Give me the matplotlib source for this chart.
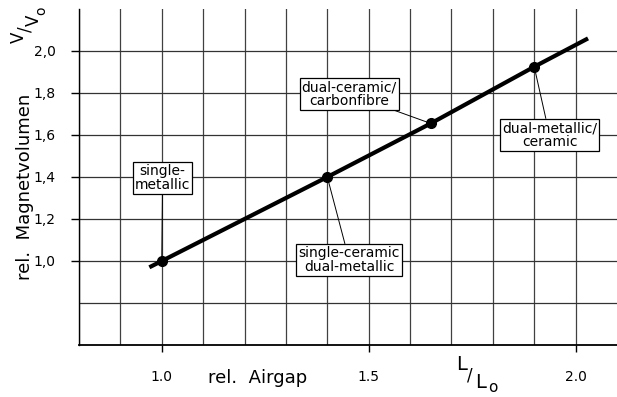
import matplotlib
matplotlib.use("Agg")
import matplotlib.pyplot as plt

# curve of rel. magnet volume over rel. airgap
airgap = [0.97, 1.0, 1.2, 1.4, 1.65, 1.9, 2.03]
volume = [0.97, 1.0, 1.2, 1.4, 1.655, 1.925, 2.06]

# marked design points and their labels
pt_x = [1.0, 1.4, 1.65, 1.9]
pt_y = [1.0, 1.4, 1.655, 1.925]
pt_labels = ["single-\nmetallic", "single-ceramic\ndual-metallic",
             "dual-ceramic/\ncarbonfibre", "dual-metallic/\nceramic"]
label_pos = [(1.002, 1.395), (1.453, 1.004), (1.453, 1.795), (1.937, 1.6)]

x_ticks = [1.0, 1.5, 2.0]
x_ticklabels = ["1.0", "1.5", "2.0"]
y_ticks = [1.0, 1.2, 1.4, 1.6, 1.8, 2.0]
y_ticklabels = ["1,0", "1,2", "1,4", "1,6", "1,8", "2,0"]

fig = plt.figure(figsize=(6.17, 3.97), dpi=100)
ax = fig.add_axes([79 / 617, 1 - 345 / 397, 1 - 79 / 617, (345 - 9) / 397])
ax.set_xlim(0.8, 2.1)
ax.set_ylim(0.6, 2.2)

# grid drawn by hand so the lines stop at the plot area
for i in range(13):
    ax.axvline(0.8 + 0.1 * i, color="0.25", lw=0.9, zorder=1)
for i in range(1, 8):
    ax.axhline(0.6 + 0.2 * i, color="0.2", lw=0.9, zorder=1)

for s in ["top", "right"]:
    ax.spines[s].set_visible(False)
ax.spines["left"].set_linewidth(1.0)
ax.spines["bottom"].set_linewidth(1.3)

ax.set_xticks(x_ticks)
ax.set_xticklabels(x_ticklabels, fontsize=10)
ax.set_yticks(y_ticks)
ax.set_yticklabels(y_ticklabels, fontsize=10)
ax.tick_params(axis="x", direction="out", length=5, width=1, pad=13)
ax.tick_params(axis="y", direction="out", length=6, width=1, pad=11)

ax.plot(airgap, volume, color="black", lw=3, solid_capstyle="butt", zorder=3)
ax.plot(pt_x, pt_y, "o", color="black", ms=7, zorder=4)

for x, y, lab, (tx, ty) in zip(pt_x, pt_y, pt_labels, label_pos):
    ax.annotate(lab, xy=(x, y), xytext=(tx, ty), fontsize=10, ha="center",
                va="center", linespacing=1.0,
                bbox=dict(boxstyle="square,pad=0.15", fc="white", ec="black", lw=0.9),
                arrowprops=dict(arrowstyle="-", color="black", lw=0.7,
                                shrinkA=0, shrinkB=0), zorder=5)


def px_text(x, y, s, size, rot=0):
    fig.text(x / 617, 1 - y / 397, s, fontsize=size, rotation=rot,
             ha="center", va="center")


px_text(25, 187, "rel.  Magnetvolumen", 13, 90)
px_text(258, 378, "rel.  Airgap", 13)

# stepped V/Vo and L/Lo axis symbols
px_text(19, 37, "V", 12, 90)
px_text(26, 29, "/", 12, 90)
px_text(34, 20, "V", 12, 90)
px_text(41, 11, "o", 10, 90)

px_text(462, 364, "L", 14)
px_text(470, 375, "/", 12)
px_text(481, 382, "L", 14)
px_text(493, 388, "o", 11)

fig.savefig("out.png", dpi=100)
